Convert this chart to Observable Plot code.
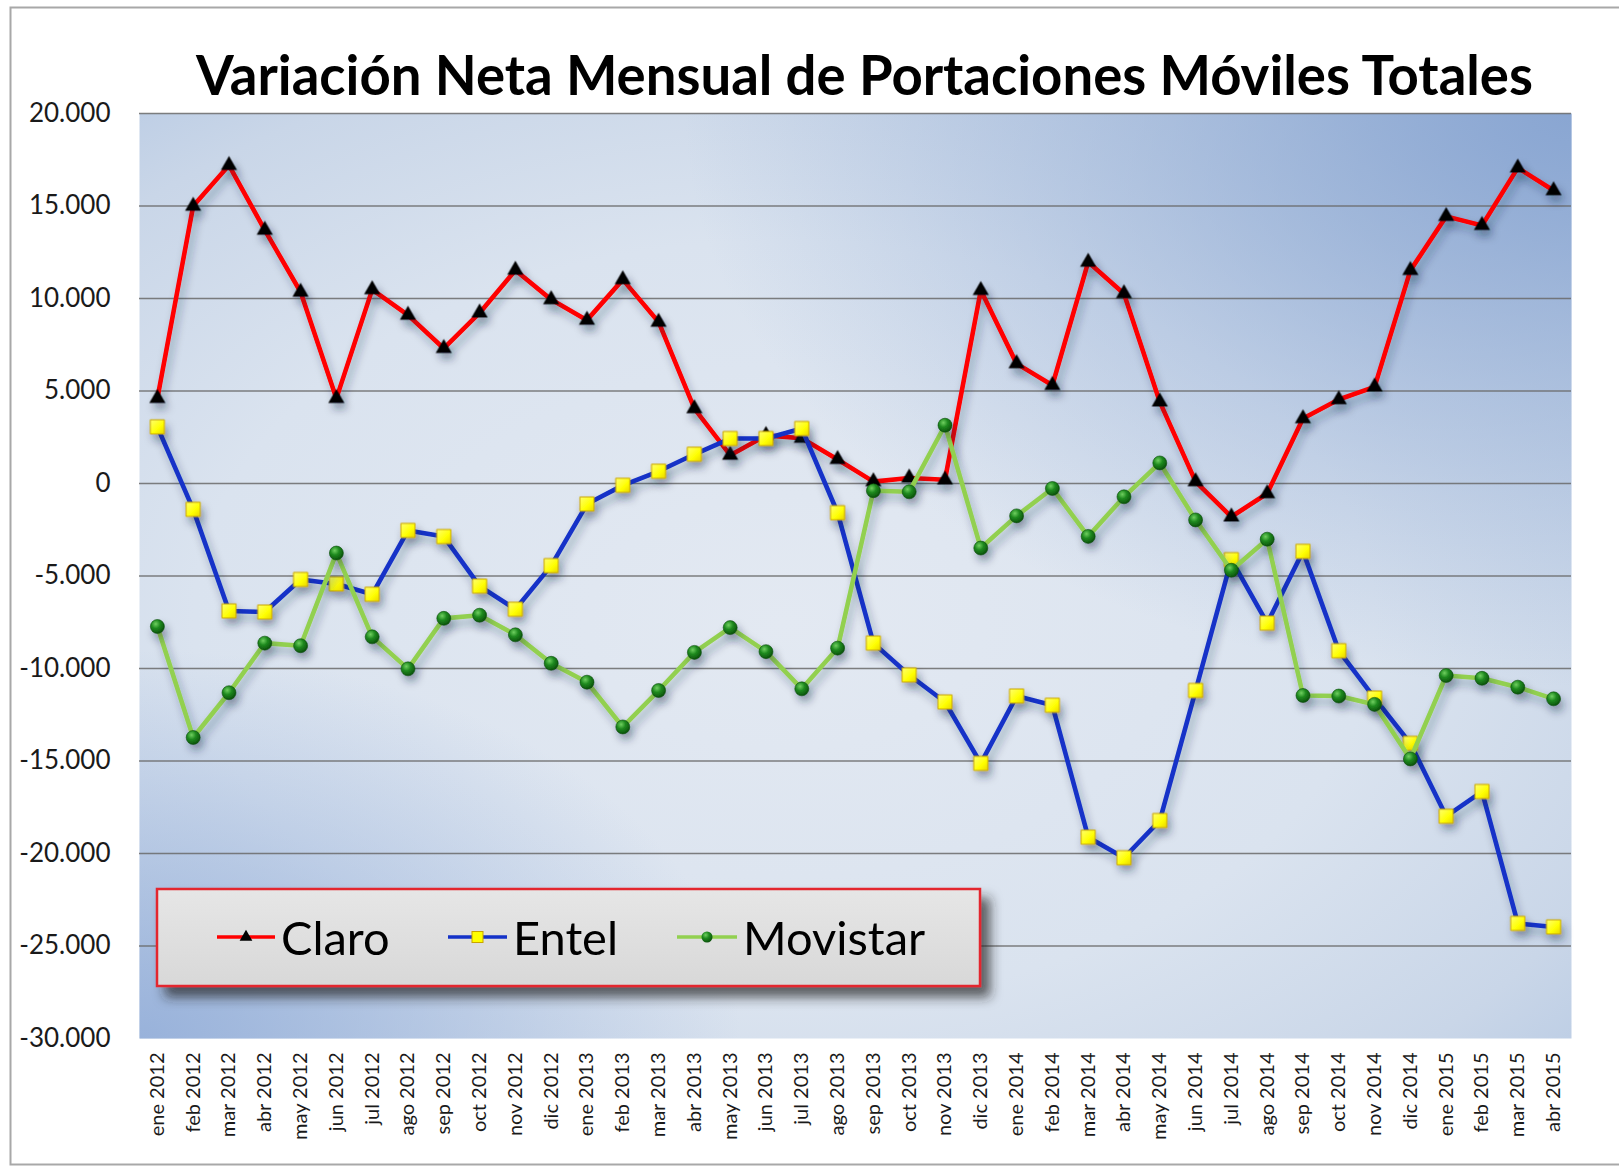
<!DOCTYPE html>
<html>
<head>
<meta charset="utf-8">
<script src="https://cdn.jsdelivr.net/npm/d3@7"></script>
<script src="https://cdn.jsdelivr.net/npm/@observablehq/plot@0.6"></script>
<style>
  body { margin: 0; background: #ffffff; }
  #wrap { position: relative; width: 1619px; height: 1167px; overflow: hidden; font-family: Lato, "Open Sans", sans-serif; }
  #wrap > svg { position: absolute; left: 0; top: 0; }
  #overlay { pointer-events: none; }
</style>
</head>
<body>
<div id="wrap"></div>
<script>
// ---------- data ----------
const months = [
  "ene 2012","feb 2012","mar 2012","abr 2012","may 2012","jun 2012","jul 2012","ago 2012","sep 2012","oct 2012","nov 2012","dic 2012",
  "ene 2013","feb 2013","mar 2013","abr 2013","may 2013","jun 2013","jul 2013","ago 2013","sep 2013","oct 2013","nov 2013","dic 2013",
  "ene 2014","feb 2014","mar 2014","abr 2014","may 2014","jun 2014","jul 2014","ago 2014","sep 2014","oct 2014","nov 2014","dic 2014",
  "ene 2015","feb 2015","mar 2015","abr 2015"
];
const claro = [4600, 15000, 17200, 13700, 10350, 4600, 10480, 9100, 7300, 9220, 11530, 9940,
  8830, 11020, 8730, 4050, 1530, 2600, 2450, 1300, 100, 300, 200, 10440,
  6480, 5310, 11970, 10260, 4410, 100, -1800, -540, 3510, 4540, 5220, 11520,
  14440, 13950, 17060, 15840];
const entel = [3060, -1400, -6890, -6950, -5190, -5430, -5990, -2540, -2870, -5550, -6800, -4440,
  -1110, -100, 660, 1580, 2430, 2430, 2970, -1580, -8630, -10350, -11810, -15130,
  -11490, -11990, -19120, -20230, -18220, -11190, -4120, -7550, -3670, -9040, -11600, -14050,
  -17990, -16650, -23780, -23970];
const movistar = [-7730, -13730, -11310, -8630, -8770, -3760, -8290, -10020, -7290, -7120, -8180, -9720,
  -10740, -13160, -11190, -9130, -7790, -9090, -11100, -8900, -390, -450, 3150, -3490,
  -1750, -270, -2860, -720, 1110, -1970, -4690, -3010, -11460, -11490, -11940, -14890,
  -10380, -10530, -11010, -11640];
const yTicks = [20000, 15000, 10000, 5000, 0, -5000, -10000, -15000, -20000, -25000, -30000];
const seriesNames = ["Claro", "Entel", "Movistar"];
const titleText = "Variación Neta Mensual de Portaciones Móviles Totales";

// ---------- styles ----------
const lineColors = {Claro: "#ff0000", Entel: "#1432c8", Movistar: "#92d050"};
const FONT = "Lato, 'Open Sans', sans-serif";

const rows = months.map((m, i) => ({month: m, Claro: claro[i], Entel: entel[i], Movistar: movistar[i]}));
const fmt = d3.formatLocale({decimal: ",", thousands: ".", grouping: [3], currency: ["$", ""], minus: "-"}).format(",");

const chart = Plot.plot({
  width: 1619,
  height: 1167,
  marginTop: 113,
  marginBottom: 129,
  marginLeft: 139,
  marginRight: 48,
  style: {fontFamily: FONT, background: "transparent", color: "#1a1a1a", overflow: "visible"},
  x: {type: "point", domain: months, padding: 0.5},
  y: {domain: [-30000, 20000]},
  marks: [
    Plot.frame({fill: "url(#bgBase)", stroke: "none"}),
    Plot.frame({fill: "url(#bgTR)", stroke: "none"}),
    Plot.frame({fill: "url(#bgBL)", stroke: "none"}),
    Plot.ruleY(yTicks.filter(d => d > -30000), {stroke: "#6a6a6a", strokeWidth: 1.3, strokeOpacity: 0.85}),
    Plot.axisY({ticks: yTicks, tickSize: 0, tickPadding: 29, tickFormat: fmt, fontSize: 26, label: null}),
    Plot.axisX({tickSize: 0, tickPadding: 14, tickRotate: -90, fontSize: 20, label: null}),
    Plot.line(rows, {x: "month", y: "Claro", stroke: lineColors.Claro, strokeWidth: 4.6, strokeLinejoin: "round"}),
    Plot.dot(rows, {x: "month", y: "Claro", symbol: "triangle", r: 6, fill: "#000", stroke: "none"}),
    Plot.line(rows, {x: "month", y: "Entel", stroke: lineColors.Entel, strokeWidth: 4.6, strokeLinejoin: "round"}),
    Plot.dot(rows, {x: "month", y: "Entel", symbol: "square", r: 8, fill: "url(#ysq)", stroke: "#c9a400", strokeWidth: 1}),
    Plot.line(rows, {x: "month", y: "Movistar", stroke: lineColors.Movistar, strokeWidth: 4.6, strokeLinejoin: "round"}),
    Plot.dot(rows, {x: "month", y: "Movistar", r: 7, fill: "url(#gdot)", stroke: "#0b4d0b", strokeWidth: 0.6})
  ]
});

const sel = d3.select(chart);
sel.insert("defs", ":first-child").html(`
  <radialGradient id="bgBase" cx="0.45" cy="0.55" r="0.75">
    <stop offset="0" stop-color="#e3e9f2"/>
    <stop offset="0.55" stop-color="#dae3ef"/>
    <stop offset="0.85" stop-color="#c9d6e8"/>
    <stop offset="1" stop-color="#b9cbe4"/>
  </radialGradient>
  <radialGradient id="bgTR" cx="1" cy="0" r="0.62">
    <stop offset="0" stop-color="#87a4d1" stop-opacity="0.95"/>
    <stop offset="0.5" stop-color="#87a4d1" stop-opacity="0.45"/>
    <stop offset="1" stop-color="#87a4d1" stop-opacity="0"/>
  </radialGradient>
  <radialGradient id="bgBL" cx="0" cy="1" r="0.42">
    <stop offset="0" stop-color="#93aed9" stop-opacity="0.9"/>
    <stop offset="1" stop-color="#93aed9" stop-opacity="0"/>
  </radialGradient>
  <radialGradient id="gdot" cx="0.38" cy="0.32" r="0.7">
    <stop offset="0" stop-color="#6fcf5f"/>
    <stop offset="0.45" stop-color="#1f8a1f"/>
    <stop offset="1" stop-color="#0a500a"/>
  </radialGradient>
  <linearGradient id="ysq" x1="0" y1="0" x2="1" y2="1">
    <stop offset="0" stop-color="#ffff70"/>
    <stop offset="0.6" stop-color="#ffff00"/>
    <stop offset="1" stop-color="#e8d400"/>
  </linearGradient>
  <filter id="frameShadow" x="-5%" y="-5%" width="115%" height="115%">
    <feDropShadow dx="10" dy="9" stdDeviation="5" flood-color="#3a3a3a" flood-opacity="0.8"/>
  </filter>
  <filter id="lineShadow" x="-5%" y="-10%" width="115%" height="125%">
    <feDropShadow dx="3" dy="6" stdDeviation="4" flood-color="#1a2a40" flood-opacity="0.35"/>
  </filter>
`);
sel.selectAll('g[aria-label="frame"]').filter((d, i) => i === 0).attr("filter", "url(#frameShadow)");
sel.selectAll('g[aria-label="line"]').attr("filter", "url(#lineShadow)");
sel.selectAll('g[aria-label="dot"]').attr("filter", "url(#lineShadow)");
sel.selectAll('g[aria-label="y-axis tick label"]').attr("font-size", 26).attr("fill", "#1a1a1a");
sel.selectAll('g[aria-label="x-axis tick label"]').attr("font-size", 20).attr("fill", "#1a1a1a");

const wrap = document.getElementById("wrap");
wrap.appendChild(chart);

// ---------- overlay: border, title, legend ----------
const ov = d3.select(wrap).append("svg")
  .attr("id", "overlay").attr("width", 1619).attr("height", 1167)
  .style("font-family", FONT);
ov.append("defs").html(`
  <linearGradient id="legBg" x1="0" y1="0" x2="0" y2="1">
    <stop offset="0" stop-color="#e6e6e6"/>
    <stop offset="1" stop-color="#d8d8d8"/>
  </linearGradient>
  <filter id="legShadow" x="-5%" y="-10%" width="115%" height="140%">
    <feDropShadow dx="9" dy="10" stdDeviation="6" flood-color="#222" flood-opacity="0.7"/>
  </filter>
  <radialGradient id="gdot2" cx="0.38" cy="0.32" r="0.7">
    <stop offset="0" stop-color="#6fcf5f"/>
    <stop offset="0.45" stop-color="#1f8a1f"/>
    <stop offset="1" stop-color="#0a500a"/>
  </radialGradient>
`);
ov.append("rect").attr("x", 10.5).attr("y", 7.5).attr("width", 1700).attr("height", 1157)
  .attr("fill", "none").attr("stroke", "#a8a8a8").attr("stroke-width", 2);

const title = ov.append("text")
  .attr("x", 864.5).attr("y", 95)
  .attr("text-anchor", "middle")
  .attr("font-weight", 700).attr("font-size", 52).attr("fill", "#000")
  .text(titleText);
const tw = title.node().getComputedTextLength();
title.attr("font-size", 52 * 1337 / tw);

const leg = ov.append("g");
leg.append("rect").attr("x", 157).attr("y", 889).attr("width", 823).attr("height", 97)
  .attr("fill", "url(#legBg)").attr("stroke", "#e3262e").attr("stroke-width", 2.5)
  .attr("filter", "url(#legShadow)");
const legLineX = [[217, 275], [448, 507], [677, 737]];
const legTextX = [281, 513, 743];
seriesNames.forEach((name, i) => {
  const [x0, x1] = legLineX[i];
  const cx = (x0 + x1) / 2, cy = 937;
  leg.append("line").attr("x1", x0).attr("x2", x1).attr("y1", cy).attr("y2", cy)
    .attr("stroke", lineColors[name]).attr("stroke-width", 3.5);
  if (name === "Claro") {
    leg.append("path").attr("d", d3.symbol(d3.symbolTriangle, 70)()).attr("transform", `translate(${cx},${cy})`).attr("fill", "#000");
  } else if (name === "Entel") {
    leg.append("rect").attr("x", cx - 5.5).attr("y", cy - 5.5).attr("width", 11).attr("height", 11)
      .attr("fill", "#ffff00").attr("stroke", "#c9a400").attr("stroke-width", 1);
  } else {
    leg.append("circle").attr("cx", cx).attr("cy", cy).attr("r", 5.5).attr("fill", "url(#gdot2)");
  }
  leg.append("text").attr("x", legTextX[i]).attr("y", 955)
    .attr("font-size", 47).attr("fill", "#000").text(name);
});
</script>
</body>
</html>
